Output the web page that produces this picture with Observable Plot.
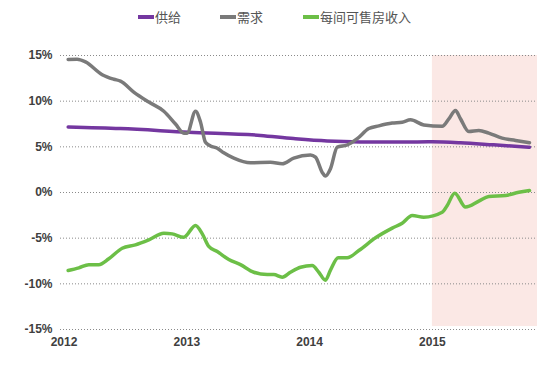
<!DOCTYPE html>
<html>
<head>
<meta charset="utf-8">
<script src="https://cdn.jsdelivr.net/npm/d3@7"></script>
<script src="https://cdn.jsdelivr.net/npm/@observablehq/plot@0.6"></script>
<style>
  body { margin: 0; background: #fff; width: 550px; height: 381px; overflow: hidden; }
  #legend { position: relative; height: 36px; font-family: "Noto Sans CJK SC", sans-serif; font-size: 13px; color: #555; }
  .item { position: absolute; top: 8px; display: flex; align-items: center; line-height: 18px; }
  .sw { width: 16px; height: 4px; margin-right: 1px; }
  svg { display: block; }
</style>
</head>
<body>
<div id="legend"></div>
<div id="chart"></div>
<script>
// Series names and colours
const seriesNames = ["供给", "需求", "每间可售房收入"];
const seriesColors = ["#7437a0", "#7a7a7a", "#6cbf47"];

// 供给 (supply)
const supplyT = [2012.034, 2012.46, 2013.016, 2013.60, 2013.869, 2014.143, 2014.683, 2015.0, 2015.229, 2015.498, 2015.791];
const supplyV = [7.18, 7.0, 6.6, 6.25, 5.9, 5.65, 5.52, 5.55, 5.45, 5.22, 4.96];

// 需求 (demand)
const demandT = [2012.034, 2012.107, 2012.175, 2012.311, 2012.406, 2012.460, 2012.568, 2012.691, 2012.813, 2012.908, 2012.976, 2013.003, 2013.071, 2013.112, 2013.152, 2013.193, 2013.248, 2013.301, 2013.383, 2013.519, 2013.682, 2013.777, 2013.871, 2014.007, 2014.048, 2014.103, 2014.129, 2014.170, 2014.225, 2014.306, 2014.388, 2014.482, 2014.564, 2014.673, 2014.754, 2014.822, 2014.930, 2015.080, 2015.134, 2015.188, 2015.229, 2015.296, 2015.378, 2015.459, 2015.568, 2015.677, 2015.791];
const demandV = [14.57, 14.6, 14.3, 12.9, 12.4, 12.2, 11.0, 9.9, 8.9, 7.5, 6.5, 6.5, 8.9, 7.7, 5.5, 5.1, 4.85, 4.35, 3.76, 3.25, 3.3, 3.14, 3.76, 4.1, 3.87, 2.2, 1.8, 2.6, 4.96, 5.2, 5.9, 7.0, 7.3, 7.6, 7.7, 7.96, 7.4, 7.26, 8.07, 8.98, 8.07, 6.68, 6.79, 6.5, 5.95, 5.7, 5.44];

// 每间可售房收入 (RevPAR)
const revparT = [2012.034, 2012.121, 2012.202, 2012.283, 2012.365, 2012.474, 2012.582, 2012.691, 2012.813, 2012.881, 2012.976, 2013.071, 2013.125, 2013.179, 2013.248, 2013.342, 2013.437, 2013.546, 2013.655, 2013.708, 2013.777, 2013.844, 2013.926, 2014.021, 2014.075, 2014.129, 2014.170, 2014.233, 2014.306, 2014.401, 2014.537, 2014.673, 2014.754, 2014.836, 2014.930, 2015.080, 2015.121, 2015.182, 2015.270, 2015.378, 2015.459, 2015.595, 2015.704, 2015.791];
const revparV = [-8.54, -8.25, -7.9, -7.9, -7.26, -6.1, -5.73, -5.18, -4.46, -4.53, -4.9, -3.6, -4.5, -5.9, -6.46, -7.34, -7.9, -8.73, -8.98, -8.98, -9.27, -8.73, -8.18, -8.0, -8.73, -9.6, -8.5, -7.15, -7.15, -6.35, -4.96, -3.9, -3.36, -2.52, -2.7, -2.16, -1.42, -0.07, -1.6, -0.95, -0.44, -0.33, 0.03, 0.22];

// Axis ticks
const xTicks = [2012, 2013, 2014, 2015];
const yTicks = [-15, -10, -5, 0, 5, 10, 15];

// Shaded forecast period
const shadeStart = 2015.0;
const shadeEnd = 2015.856;
const shadeTop = 15;
const shadeBottom = -14.68;

const toRows = (T, V, s) => T.map((t, i) => ({t, v: V[i], s}));
const rows = [
  ...toRows(supplyT, supplyV, seriesNames[0]),
  ...toRows(demandT, demandV, seriesNames[1]),
  ...toRows(revparT, revparV, seriesNames[2])
];

// legend
const legend = document.getElementById("legend");
const lefts = [138, 220, 303];
seriesNames.forEach((n, i) => {
  const it = document.createElement("div");
  it.className = "item";
  it.style.left = lefts[i] + "px";
  it.innerHTML = `<span class="sw" style="background:${seriesColors[i]}"></span><span>${n}</span>`;
  legend.appendChild(it);
});

const chart = Plot.plot({
  width: 550,
  height: 345,
  marginLeft: 60,
  marginRight: 13,
  marginTop: 19,
  marginBottom: 52,
  style: {fontFamily: "'Liberation Sans', Arial, sans-serif", fontSize: "12px", fontWeight: "bold", color: "#404040", background: "#fff"},
  x: {domain: [2011.9715, 2015.856], ticks: xTicks, tickFormat: d => String(d), tickSize: 0, tickPadding: 8, label: null},
  y: {domain: [-15, 15], ticks: yTicks, tickFormat: d => d + "%", tickSize: 0, tickPadding: 8, label: null},
  color: {domain: seriesNames, range: seriesColors},
  marks: [
    Plot.rect([{x1: shadeStart, x2: shadeEnd, y1: shadeBottom, y2: shadeTop}], {x1: "x1", x2: "x2", y1: "y1", y2: "y2", fill: "#fbe8e5"}),
    Plot.gridY(yTicks, {stroke: "#8a8a8a", strokeOpacity: 1, strokeWidth: 1, strokeDasharray: "1,2"}),
    Plot.line(rows, {x: "t", y: "v", z: "s", stroke: "s", strokeWidth: 3.5, curve: "monotone-x"}),
    Plot.axisX({ticks: xTicks, tickFormat: d => String(d), tickSize: 0, tickPadding: 8, fontSize: 12, fontWeight: "bold"}),
    Plot.axisY({ticks: yTicks, tickFormat: d => d + "%", tickSize: 0, tickPadding: 8, fontSize: 12, fontWeight: "bold"})
  ]
});
document.getElementById("chart").appendChild(chart);
</script>
</body>
</html>
